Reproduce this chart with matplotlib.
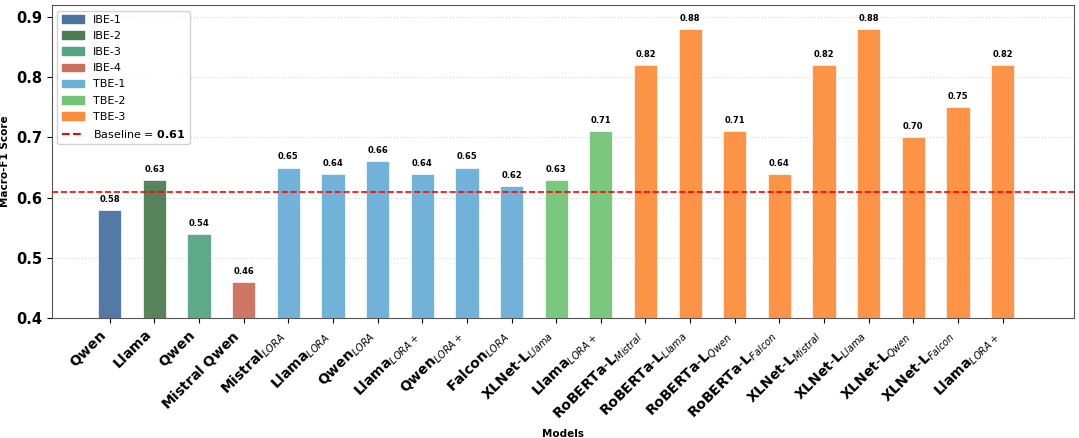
import matplotlib.pyplot as plt
import numpy as np
from matplotlib.patches import Patch
from matplotlib.lines import Line2D

# Models (mathtext for subscripts), scores, groups
labels = [
    r'$\mathbf{Qwen}$', r'$\mathbf{Llama}$', r'$\mathbf{Qwen}$', r'$\mathbf{Mistral\ Qwen}$',
    r'$\mathbf{Mistral}_{\mathit{LORA}}$', r'$\mathbf{Llama}_{\mathit{LORA}}$',
    r'$\mathbf{Qwen}_{\mathit{LORA}}$', r'$\mathbf{Llama}_{\mathit{LORA+}}$',
    r'$\mathbf{Qwen}_{\mathit{LORA+}}$', r'$\mathbf{Falcon}_{\mathit{LORA}}$',
    r'$\mathbf{XLNet}$-$\mathbf{L}_{\mathit{Llama}}$', r'$\mathbf{Llama}_{\mathit{LORA+}}$',
    r'$\mathbf{RoBERTa}$-$\mathbf{L}_{\mathit{Mistral}}$', r'$\mathbf{RoBERTa}$-$\mathbf{L}_{\mathit{Llama}}$',
    r'$\mathbf{RoBERTa}$-$\mathbf{L}_{\mathit{Qwen}}$', r'$\mathbf{RoBERTa}$-$\mathbf{L}_{\mathit{Falcon}}$',
    r'$\mathbf{XLNet}$-$\mathbf{L}_{\mathit{Mistral}}$', r'$\mathbf{XLNet}$-$\mathbf{L}_{\mathit{Llama}}$',
    r'$\mathbf{XLNet}$-$\mathbf{L}_{\mathit{Qwen}}$', r'$\mathbf{XLNet}$-$\mathbf{L}_{\mathit{Falcon}}$',
    r'$\mathbf{Llama}_{\mathit{LORA+}}$',
]
scores = [0.58, 0.63, 0.54, 0.46, 0.65, 0.64, 0.66, 0.64, 0.65, 0.62, 0.63, 0.71,
          0.82, 0.88, 0.71, 0.64, 0.82, 0.88, 0.70, 0.75, 0.82]
groups = ['IBE-1', 'IBE-2', 'IBE-3', 'IBE-4'] + ['TBE-1'] * 6 + ['TBE-2'] * 2 + ['TBE-3'] * 9

group_colors = {
    'IBE-1': '#4c72a0',
    'IBE-2': '#4e7d51',
    'IBE-3': '#55a583',
    'IBE-4': '#cb6f5c',
    'TBE-1': '#6baed6',
    'TBE-2': '#74c476',
    'TBE-3': '#fd8d3c',
}
baseline = 0.61

fig, ax = plt.subplots(figsize=(10.79, 4.38), dpi=100)
fig.subplots_adjust(left=0.048, right=0.9954, top=0.9886, bottom=0.274)

x = np.arange(len(scores))
colors = [group_colors[g] for g in groups]
ax.bar(x, scores, width=0.52, color=colors, alpha=0.95, edgecolor='white', linewidth=0.5, zorder=3)

for xi, s in zip(x, scores):
    ax.text(xi, s + 0.01, f'{s:.2f}', ha='center', va='bottom', fontsize=6, fontweight='bold')

ax.axhline(baseline, color='red', linestyle='--', linewidth=1.2, zorder=4)

ax.set_ylim(0.4, 0.92)
ax.set_xlim(-1.3, 21.6)
ax.set_xticks(x)
ax.set_xticklabels(labels, rotation=45, ha='right', fontsize=10)
ax.set_yticks([0.4, 0.5, 0.6, 0.7, 0.8, 0.9])
ax.tick_params(axis='y', labelsize=10.5)
for t in ax.get_yticklabels():
    t.set_fontweight('bold')
ax.set_ylabel('Macro-F1 Score', fontsize=7.5, fontweight='bold')
ax.set_xlabel('Models', fontsize=7.5, fontweight='bold')
ax.grid(axis='y', linestyle=':', alpha=0.5, zorder=0)
for sp in ax.spines.values():
    sp.set_color('#555555')

handles = [Patch(color=c, label=g) for g, c in group_colors.items()]
handles.append(Line2D([0], [0], color='red', linestyle='--', label=r'Baseline = $\mathbf{0.61}$'))
ax.legend(handles=handles, loc='upper left', fontsize=8, framealpha=0.9, labelspacing=0.55)

plt.savefig('out.png', dpi=100)
